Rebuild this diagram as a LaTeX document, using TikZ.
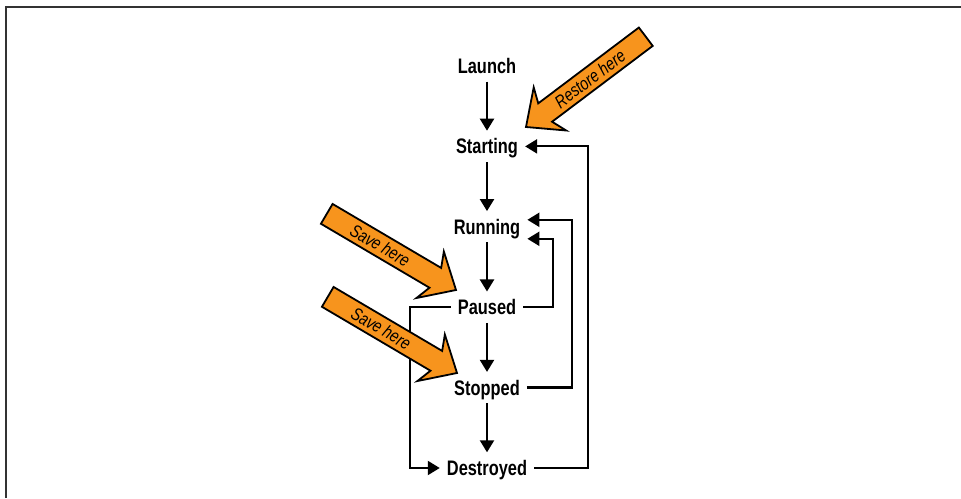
\documentclass[tikz,border=0pt]{standalone}
\usepackage{fontspec}
\setmainfont{Liberation Sans}[FakeStretch=0.78]
\newfontfamily\notefont{Liberation Sans}[FakeStretch=0.8]
\usetikzlibrary{arrows.meta,positioning}
\definecolor{FrameGray}{HTML}{333333}
\definecolor{CalloutOrange}{HTML}{F7941D}

\begin{document}
\begin{tikzpicture}[x=1pt,y=1pt,
  node distance=49pt,
  state/.style={font=\fontsize{21}{24}\selectfont\bfseries,inner xsep=7pt,inner ysep=8pt,text height=15pt,text depth=0pt},
  flow/.style={-{Triangle[length=12pt,width=14pt]},line width=2.2pt},
  callout/.style={draw=black,line width=1.8pt,fill=CalloutOrange,line join=miter},
  calltext/.style={font=\notefont\itshape\fontsize{18}{20}\selectfont,inner sep=0pt}
]
\useasboundingbox (0,0) rectangle (961,498);
\draw[FrameGray,line width=1.5pt] (6,0) -- (6,491) -- (961,491);

% life cycle states
\node[state] (launch) at (487,432) {Launch};
\node[state,below=of launch] (starting) {Starting};
\node[state,below=of starting] (running) {Running};
\node[state,below=of running] (paused) {Paused};
\node[state,below=of paused] (stopped) {Stopped};
\node[state,below=of stopped] (destroyed) {Destroyed};

\draw[flow] (launch) -- (starting);
\draw[flow] (starting) -- (running);
\draw[flow] (running) -- (paused);
\draw[flow] (paused) -- (stopped);
\draw[flow] (stopped) -- (destroyed);

% return paths
\coordinate (railR) at (588,0);
\coordinate (railS) at (572,0);
\coordinate (railP) at (553,0);
\coordinate (railL) at (410,0);
\draw[flow] (destroyed.east) -- (destroyed.east -| railR) |- (starting.east);
\draw[flow] (stopped.east) -- (stopped.east -| railS) |- ([yshift=7pt]running.east);
\draw[flow] (paused.east) -- (paused.east -| railP) |- ([yshift=-12pt]running.east);
\draw[flow] (paused.west) -- (paused.west -| railL) |- (destroyed.west);

% callouts
\foreach \tipx/\tipy/\dir/\lbl/\lblrot/\lblpos in {456/208/-30.5/Save here/-30.5/-88,457/125/-30.5/Save here/-30.5/-88,526/371/217/Restore here/37/-80}{
  \begin{scope}[shift={(\tipx,\tipy)},rotate=\dir]
    \draw[callout] (0,0) -- (-30,27) -- (-24,11.5) -- (-150,11.5) -- (-150,-11.5) -- (-24,-11.5) -- (-30,-27) -- cycle;
    \node[calltext,rotate=\lblrot] (note\tipy) at (\lblpos,0) {\lbl};
  \end{scope}
}
\end{tikzpicture}
\end{document}
